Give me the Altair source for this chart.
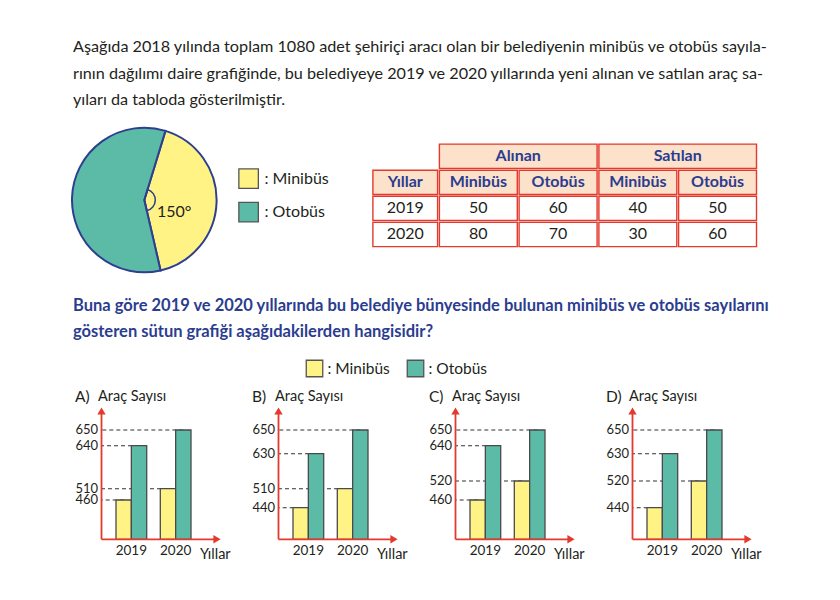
import math
import altair as alt
import pandas as pd

FONT = "Lato"
DARK = "#231f20"
BLUE = "#2b3d8f"
RED = "#e4392d"
PEACH = "#fce1cb"
YEL = "#fff386"
GRN = "#5bbba7"
PIE_STROKE = "#2e3f8f"

# ---------------- texts ----------------
PARAGRAPH = [
    "Aşağıda 2018 yılında toplam 1080 adet şehiriçi aracı olan bir belediyenin minibüs ve otobüs sayıla-",
    "rının dağılımı daire grafiğinde, bu belediyeye 2019 ve 2020 yıllarında yeni alınan ve satılan araç sa-",
    "yıları da tabloda gösterilmiştir.",
]
QUESTION = [
    "Buna göre 2019 ve 2020 yıllarında bu belediye bünyesinde bulunan minibüs ve otobüs sayılarını",
    "gösteren sütun grafiği aşağıdakilerden hangisidir?",
]

# ---------------- pie ----------------
PIE_CATS = ["Minibüs", "Otobüs"]
PIE_DEG = [150, 210]
PIE_LABEL = "150°"

# ---------------- table ----------------
TABLE_YEARS = ["2019", "2020"]
ALINAN_MINIBUS = [50, 80]
ALINAN_OTOBUS = [60, 70]
SATILAN_MINIBUS = [40, 30]
SATILAN_OTOBUS = [50, 60]
GROUP_HEADERS = ["Alınan", "Satılan"]
COL_HEADERS = ["Yıllar", "Minibüs", "Otobüs", "Minibüs", "Otobüs"]

# ---------------- bar panels ----------------
PANELS = ["A", "B", "C", "D"]
YEARS = ["2019", "2020"]
SERIES = ["Minibüs", "Otobüs"]
PANEL_MINIBUS = {"A": [460, 510], "B": [440, 510], "C": [460, 520], "D": [440, 520]}
PANEL_OTOBUS = {"A": [640, 650], "B": [630, 650], "C": [640, 650], "D": [630, 650]}
# schematic (non-linear) value axis used by the drawing
AXIS_VALUES = [0, 440, 460, 510, 520, 630, 640, 650]
AXIS_PIXELS = [154.3, 122.7, 115.0, 103.7, 96.0, 68.7, 60.7, 45.0]

one = pd.DataFrame({"k": [0]})


def txt(s, x, y, size, color=DARK, weight="normal", align="left"):
    return alt.Chart(one).mark_text(
        text=s, align=align, baseline="middle", fontSize=size, color=color,
        fontWeight=weight, font=FONT
    ).encode(x=alt.value(x), y=alt.value(y))


def square(x, y, side, color):
    return alt.Chart(one).mark_point(
        shape="square", filled=True, size=side * side, fill=color, stroke="#555555",
        strokeWidth=1.3, opacity=1
    ).encode(x=alt.value(x), y=alt.value(y))


# ================= top section =================
top_layers = []
for i, line in enumerate(PARAGRAPH):
    top_layers.append(txt(line, 65, 39 + 26.5 * i, 16.2))
for i, line in enumerate(QUESTION):
    top_layers.append(txt(line, 65, 298 + 26 * i, 16.5, BLUE, "bold"))

# pie
start = math.radians(17)
pie_df = pd.DataFrame({"type": PIE_CATS, "deg": PIE_DEG, "ord": [0, 1]})
pie = alt.Chart(pie_df).mark_arc(outerRadius=72.3, stroke=PIE_STROKE, strokeWidth=2).encode(
    theta=alt.Theta("deg:Q", stack=True, scale=alt.Scale(range=[start, start + 2 * math.pi])),
    color=alt.Color("type:N", scale=alt.Scale(domain=PIE_CATS, range=[YEL, GRN]), legend=None),
    order=alt.Order("ord:Q"),
    x=alt.value(136.3), y=alt.value(192),
)
angle_mark = alt.Chart(one).mark_arc(
    theta=start, theta2=start + math.radians(PIE_DEG[0]), outerRadius=11,
    fillOpacity=0, stroke=PIE_STROKE, strokeWidth=1.5
).encode(x=alt.value(136.3), y=alt.value(192))
top_layers += [pie, angle_mark, txt(PIE_LABEL, 149, 204, 16)]

# legend 1
top_layers += [
    square(240.6, 170.6, 19.5, YEL), txt(": " + PIE_CATS[0], 256.5, 170.6, 16),
    square(240.6, 204.2, 19.5, GRN), txt(": " + PIE_CATS[1], 256.5, 204.2, 16),
]

# table cells
cells = []
cells.append(dict(c0=1, c1=3, r0=0, label=GROUP_HEADERS[0], kind="head"))
cells.append(dict(c0=3, c1=5, r0=0, label=GROUP_HEADERS[1], kind="head"))
for j, h in enumerate(COL_HEADERS):
    cells.append(dict(c0=j, c1=j + 1, r0=1, label=h, kind="head"))
for i, y in enumerate(TABLE_YEARS):
    row = [y, ALINAN_MINIBUS[i], ALINAN_OTOBUS[i], SATILAN_MINIBUS[i], SATILAN_OTOBUS[i]]
    for j, v in enumerate(row):
        cells.append(dict(c0=j, c1=j + 1, r0=2 + i, label=str(v), kind="data"))
cells = pd.DataFrame(cells)
cells["r1"] = cells["r0"] + 1

tx = alt.Scale(domain=[0, 1, 2, 3, 4, 5], range=[364, 430.5, 510.2, 590, 669.7, 749.4], zero=False, nice=False)
ty = alt.Scale(domain=[0, 4], range=[135.2, 239.5], zero=False, nice=False)

table_rect = alt.Chart(cells).mark_rect(
    stroke=RED, strokeWidth=1.4, xOffset=0.9, x2Offset=-0.9, yOffset=0.9, y2Offset=-0.9
).encode(
    x=alt.X("c0:Q", scale=tx, axis=None), x2="c1:Q",
    y=alt.Y("r0:Q", scale=ty, axis=None), y2="r1:Q",
    fill=alt.Fill("kind:N", scale=alt.Scale(domain=["head", "data"], range=[PEACH, "#ffffff"]), legend=None),
)


def table_text(kind, color, weight, size):
    return alt.Chart(cells).transform_filter(alt.datum.kind == kind).transform_calculate(
        cx="(datum.c0 + datum.c1) / 2", ry="datum.r0 + 0.5"
    ).mark_text(baseline="middle", align="center", fontSize=size, fontWeight=weight, color=color, font=FONT).encode(
        x=alt.X("cx:Q", scale=tx, axis=None), y=alt.Y("ry:Q", scale=ty, axis=None), text="label:N"
    )


top_layers += [table_rect, table_text("head", BLUE, "bold", 16), table_text("data", DARK, "normal", 16)]

# legend 2
top_layers += [
    square(306.5, 360.5, 16.5, YEL), txt(": " + SERIES[0], 319.5, 360.5, 15.5),
    square(407.5, 360.5, 16.5, GRN), txt(": " + SERIES[1], 420.5, 360.5, 15.5),
]

top = alt.layer(*top_layers).properties(width=824, height=377)

# ================= bar panels =================
AX_X = 93.5
BASE = 154.3


def make_panel(letter):
    m = PANEL_MINIBUS[letter]
    o = PANEL_OTOBUS[letter]
    df = pd.DataFrame({
        "year": [YEARS[0], YEARS[0], YEARS[1], YEARS[1]],
        "series": [SERIES[0], SERIES[1], SERIES[0], SERIES[1]],
        "value": [m[0], o[0], m[1], o[1]],
    })
    years_df = pd.DataFrame({"year": YEARS})
    xs = alt.Scale(domain=YEARS, range=[108, 183], paddingInner=0.307, paddingOuter=0)
    xo = alt.Scale(domain=SERIES, paddingInner=0, paddingOuter=0)
    ys = alt.Scale(domain=AXIS_VALUES, range=AXIS_PIXELS, zero=False, nice=False)

    dashes = alt.Chart(df).mark_rule(strokeDash=[4, 3], color="#333333", strokeWidth=1.1).encode(
        x=alt.X("year:N", scale=xs, axis=None),
        xOffset=alt.XOffset("series:N", scale=xo),
        x2=alt.value(AX_X),
        y=alt.Y("value:Q", scale=ys, axis=None),
    )
    bars = alt.Chart(df).mark_bar(stroke="#4a4a4a", strokeWidth=1.3).encode(
        x=alt.X("year:N", scale=xs, axis=None),
        xOffset=alt.XOffset("series:N", scale=xo),
        y=alt.Y("value:Q", scale=ys, axis=None, stack=False),
        color=alt.Color("series:N", scale=alt.Scale(domain=SERIES, range=[YEL, GRN]), legend=None),
    )
    ticks = alt.Chart(df).mark_text(align="right", baseline="middle", fontSize=13, color=DARK, font=FONT).encode(
        x=alt.value(90), y=alt.Y("value:Q", scale=ys, axis=None), text=alt.Text("value:Q")
    )
    year_lbl = alt.Chart(years_df).mark_text(align="center", baseline="middle", fontSize=13.5, color=DARK, font=FONT).encode(
        x=alt.X("year:N", scale=xs, axis=None), y=alt.value(166), text="year:N"
    )
    yaxis = alt.Chart(one).mark_rule(color=RED, strokeWidth=1.8).encode(
        x=alt.value(AX_X), y=alt.value(28), y2=alt.value(BASE))
    xaxis = alt.Chart(one).mark_rule(color=RED, strokeWidth=1.8).encode(
        x=alt.value(AX_X), x2=alt.value(207), y=alt.value(BASE))
    yarrow = alt.Chart(one).mark_point(shape="triangle-up", filled=True, size=70, color=RED, opacity=1).encode(
        x=alt.value(AX_X), y=alt.value(26))
    xarrow = alt.Chart(one).mark_point(shape="triangle-right", filled=True, size=70, color=RED, opacity=1).encode(
        x=alt.value(209), y=alt.value(BASE))
    return alt.layer(
        dashes, bars, ticks, year_lbl, yaxis, xaxis, yarrow, xarrow,
        txt(letter + ")", 67, 11.7, 15.5),
        txt("Araç Sayısı", 90, 11.7, 14.5),
        txt("Yıllar", 192, 170, 14.5),
    ).properties(width=177, height=180)


bottom = alt.hconcat(*[make_panel(p) for p in PANELS], spacing=0, bounds="flush")

chart = alt.vconcat(top, bottom, spacing=0, bounds="flush").properties(padding=0).configure(
    font=FONT
).configure_view(strokeWidth=0)

chart.save("out.html", embed_options={"renderer": "svg", "actions": False})
